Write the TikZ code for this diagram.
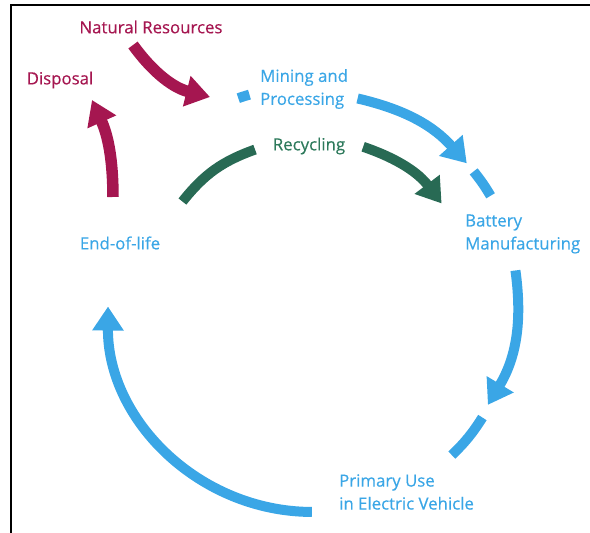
\documentclass[tikz,border=0pt]{standalone}
\usepackage{fontspec}
\setmainfont{Open Sans}
\newfontfamily\lblfont{Open Sans}[FakeBold=0.4]
\usetikzlibrary{arrows.meta,positioning,calc}
\definecolor{cyclered}{RGB}{165,22,80}
\definecolor{cycleblue}{RGB}{58,166,230}
\definecolor{cyclegreen}{RGB}{40,106,84}
\definecolor{recyclegreen}{RGB}{46,122,92}

\begin{document}
\begin{tikzpicture}[x=1pt,y=1pt,
    lbl/.style={font=\lblfont\fontsize{16.8}{23}\selectfont, inner sep=0pt, align=left},
    flow/.style={line width=10pt},
    tip/.style={-{Triangle[length=24pt,width=30pt]}}]
  \useasboundingbox (0,0) rectangle (590,533);
  \draw[line width=2pt] (11,0) -- (11,528) -- (590,528);
  \coordinate (c) at (310,230);

  \node[lbl, text=cyclered] (natres) at (151,506) {Natural Resources};
  \node[lbl, text=cyclered] (disposal) at (60,453) {Disposal};
  \node[lbl, text=cycleblue, anchor=west] (mining) at (260,444) {Mining and\\Processing};
  \node[lbl, text=recyclegreen] (recycling) at (309,387) {Recycling};
  \node[lbl, text=cycleblue, anchor=west] (battery) at (465,299) {Battery\\Manufacturing};
  \node[lbl, text=cycleblue] (eol) at (120,290) {End-of-life};
  \node[lbl, text=cycleblue, anchor=west] (primary) at (339,41) {Primary Use\\in Electric Vehicle};

  \coordinate (m0) at ($(c)+(109.3:217)$);
  \coordinate (m1) at ($(c)+(106.2:217)$);
  \coordinate (b0) at ($(c)+(76.9:210)$);
  \coordinate (b1) at ($(c)+(41.7:210)$);
  \coordinate (b2) at ($(c)+(38.8:210)$);
  \coordinate (b3) at ($(c)+(30.7:210)$);
  \coordinate (p0) at ($(c)+(9:208)$);
  \coordinate (p1) at ($(c)+(-29.8:205)$);
  \coordinate (p2) at ($(c)+(-33.6:207)$);
  \coordinate (p3) at ($(c)+(-47:208)$);
  \coordinate (e0) at ($(c)+(-89.5:209)$);
  \coordinate (e1) at ($(c)+(181:202)$);
  \coordinate (r0) at ($(c)+(141.5:163)$);
  \coordinate (r1) at ($(c)+(109.7:163)$);
  \coordinate (r2) at ($(c)+(71.2:165)$);
  \coordinate (r3) at ($(c)+(37.1:165)$);
  \coordinate (n0) at (133,488);
  \coordinate (n1) at (210,436);
  \coordinate (d0) at (113,336);
  \coordinate (d1) at (92,433);

  \draw[flow, cycleblue] (m0) to[bend left=1.5] (m1);
  \draw[flow, tip, cycleblue] (b0) to[bend left=17.6] (b1);
  \draw[flow, cycleblue] (b2) to[bend left=4] (b3);
  \draw[flow, tip, cycleblue] (p0) to[bend left=19.4] (p1);
  \draw[flow, cycleblue] (p2) to[bend left=6.7] (p3);
  \draw[flow, tip, cycleblue] (e0) to[bend left=45] (e1);
  \draw[flow, cyclegreen] (r0) to[bend left=15.9] (r1);
  \draw[flow, tip, cyclegreen] (r2) to[bend left=17] (r3);
  \draw[flow, tip, cyclered, line width=11.5pt] (n0) to[bend right=20] (n1);
  \draw[flow, tip, cyclered, line width=11.5pt] (d0) to[bend right=12] (d1);
\end{tikzpicture}
\end{document}
